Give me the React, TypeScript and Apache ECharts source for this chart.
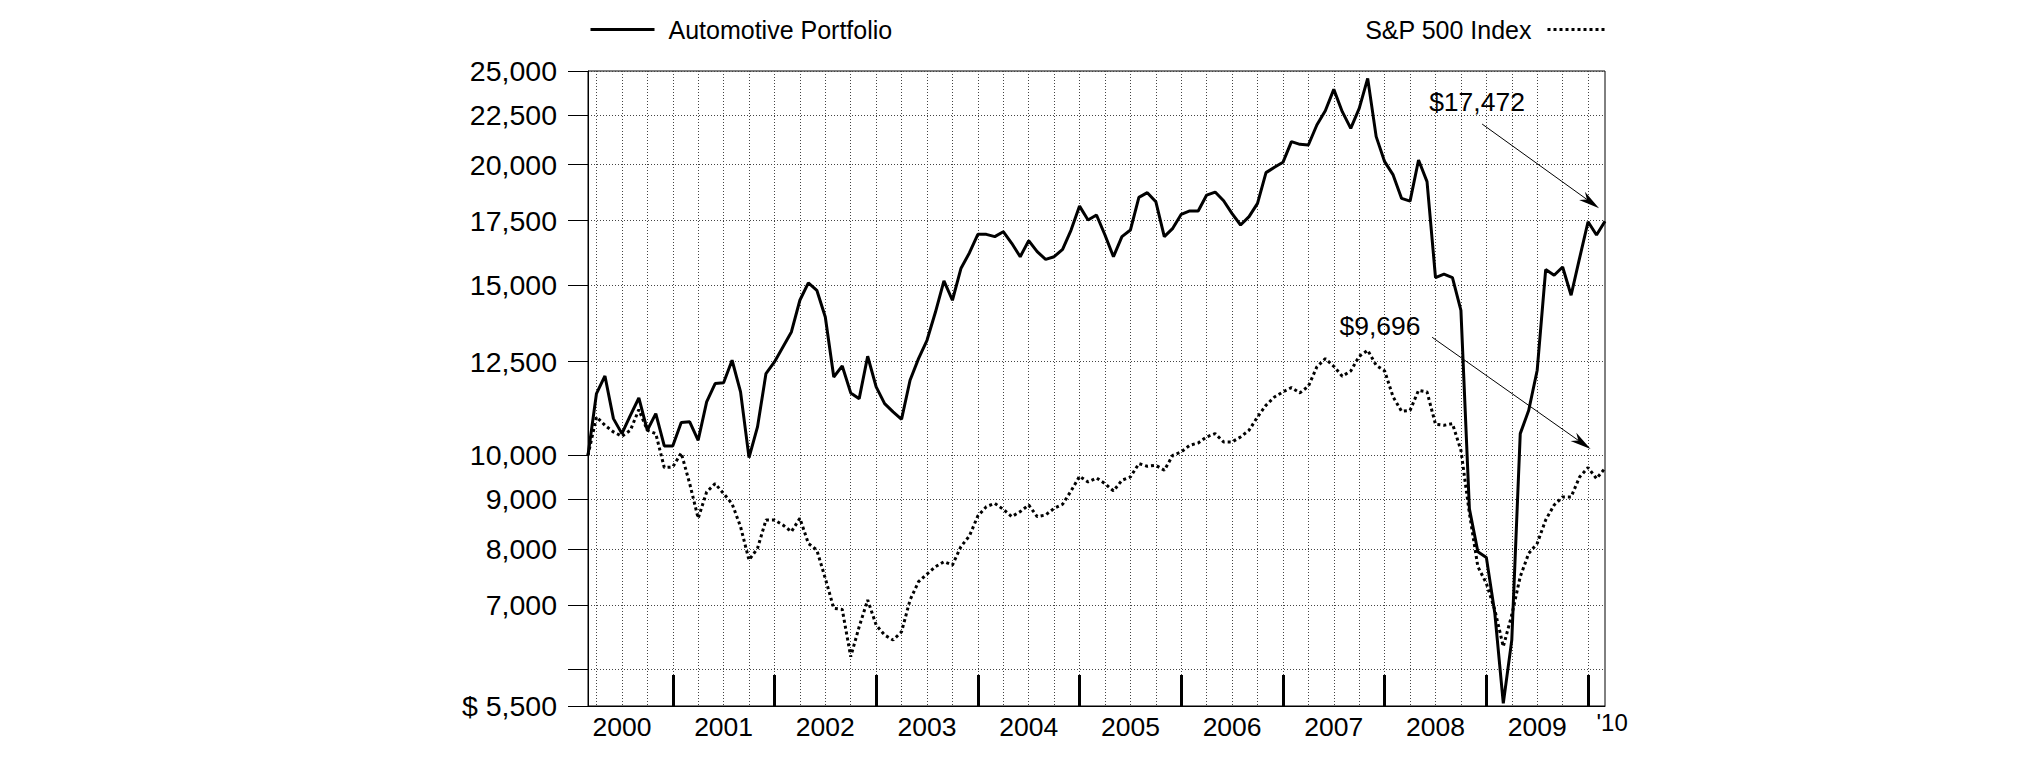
import React, { useEffect, useRef } from 'react';
import * as echarts from 'echarts';

const FONT = '"Liberation Sans", Arial, Helvetica, sans-serif';

// Monthly values, index 0 = Feb 2000 (start, $10,000) ... index 120 = Feb 2010
const automotive = [
  10000, 11585, 12082, 10913, 10530, 11000, 11464, 10614, 11045, 10225,
  10225, 10810, 10830, 10364, 11356, 11865, 11890, 12543, 11631, 9945,
  10699, 12150, 12493, 12948, 13419, 14472, 15083, 14821, 13904, 12053,
  12374, 11604, 11446, 12663, 11770, 11311, 11089, 10896, 11959, 12593,
  13155, 14071, 15155, 14472, 15608, 16200, 16935, 16935, 16842, 17043,
  16577, 16056, 16683, 16249, 15953, 16056, 16338, 17110, 18115, 17525,
  17735, 16910, 16056, 16842, 17110, 18495, 18705, 18305, 16842, 17180,
  17765, 17906, 17906, 18598, 18732, 18348, 17795, 17317, 17664, 18234,
  19620, 19871, 20108, 21122, 20989, 20955, 21978, 22742, 23930, 22690,
  21805, 22870, 24565, 21378, 20140, 19513, 18451, 18333, 20220, 19205,
  15277, 15399, 15277, 14128, 8800, 7946, 7839, 6860, 5535, 6436,
  10530, 11132, 12248, 15569, 15360, 15668, 14645, 16000, 17452, 16910,
  17472,
];

const sp500 = [
  10000, 10958, 10741, 10572, 10463, 10614, 11150, 10614, 10530, 9710,
  9725, 10056, 9347, 8605, 9163, 9347, 9127, 8909, 8434, 7789,
  8009, 8571, 8571, 8468, 8335, 8605, 8105, 7977, 7456, 6943,
  6925, 6186, 6645, 7082, 6672, 6514, 6437, 6566, 7082, 7397,
  7534, 7667, 7759, 7697, 8042, 8250, 8653, 8847, 8917, 8790,
  8639, 8743, 8882, 8639, 8674, 8811, 8898, 9185, 9512, 9384,
  9474, 9347, 9185, 9421, 9496, 9803, 9741, 9764, 9649, 10000,
  10080, 10241, 10298, 10447, 10530, 10323, 10323, 10447, 10614, 10958,
  11267, 11492, 11631, 11752, 11604, 11789, 12345, 12593, 12364, 12072,
  12227, 12663, 12846, 12393, 12227, 11492, 11106, 11130, 11676, 11631,
  10767, 10741, 10783, 10120, 8709, 7667, 7369, 6915, 6337, 6833,
  7487, 7915, 8105, 8571, 8882, 9054, 9054, 9496, 9710, 9459,
  9696,
];

const years = ['2000', '2001', '2002', '2003', '2004', '2005', '2006', '2007', '2008', '2009'];
const nextYearLabel = "'10";

const yTickValues = [5500, 6000, 7000, 8000, 9000, 10000, 12500, 15000, 17500, 20000, 22500, 25000];
const yLabelValues = [5500, 7000, 8000, 9000, 10000, 12500, 15000, 17500, 20000, 22500, 25000];

const seriesNames = ['Automotive Portfolio', 'S&P 500 Index'];

// callouts: label text, label anchor, arrow start, arrow end (month index, value)
const callouts = [
  { text: '$17,472', at: [104.9, 23240], from: [105.5, 22030], to: [119.3, 18025] },
  { text: '$9,696', at: [93.45, 13612], from: [99.6, 13250], to: [118.3, 10150] },
];

const lg = (v: number) => Math.log10(v);
const fmtNum = (n: number) => String(n).replace(/\B(?=(\d{3})+(?!\d))/g, ',');

export default function App() {
  const ref = useRef<HTMLDivElement>(null);

  useEffect(() => {
    const el = ref.current;
    if (!el) return;
    const chart = echarts.init(el, null, { renderer: 'svg' });

    const nMonths = automotive.length - 1;
    const quarterLines: number[] = [];
    for (let i = 0; i <= nMonths; i++) if (i % 3 === 1) quarterLines.push(i);
    const yearTicks = years.map((_, k) => 10 + 12 * k);
    const yearCentres = years.map((_, k) => 4 + 12 * k);

    const dotted = { show: true, lineStyle: { color: '#444', width: 1, type: [1, 2] } };

    const option: any = {
      animation: false,
      backgroundColor: '#ffffff',
      grid: {
        left: 588, right: 420, top: 71, bottom: 55,
        show: true, borderColor: '#000', borderWidth: 1, backgroundColor: 'transparent',
      },
      legend: [
        {
          data: [seriesNames[0]], left: 584, top: 12, itemWidth: 64, itemHeight: 24,
          itemStyle: { opacity: 0 }, lineStyle: { width: 3 },
          formatter: (n: string) => '{a|' + n + '}',
          textStyle: { color: '#000', fontFamily: FONT, fontSize: 25,
            rich: { a: { color: '#000', fontFamily: FONT, fontSize: 25, padding: [0, 0, 0, 9] } } },
        },
        {
          data: [seriesNames[1]], right: 413, top: 12, itemWidth: 58, itemHeight: 24, align: 'right',
          itemStyle: { opacity: 0 }, lineStyle: { width: 3 },
          formatter: (n: string) => '{a|' + n + '}',
          textStyle: { color: '#000', fontFamily: FONT, fontSize: 25,
            rich: { a: { color: '#000', fontFamily: FONT, fontSize: 25, padding: [0, 11, 0, 0] } } },
        },
      ],
      xAxis: [
        {
          type: 'value', min: 0, max: nMonths, position: 'bottom',
          axisLine: { show: true, lineStyle: { color: '#000', width: 1 } },
          axisTick: { show: false, customValues: quarterLines },
          axisLabel: { show: false },
          splitLine: dotted,
        },
        {
          type: 'value', min: 0, max: nMonths, position: 'bottom',
          axisLine: { show: false },
          axisTick: { show: true, inside: true, length: 31, lineStyle: { color: '#000', width: 3 }, customValues: yearTicks },
          axisLabel: {
            show: true, customValues: yearCentres, margin: 7,
            formatter: (v: number) => years[Math.round((v - 4) / 12)] ?? '',
            color: '#000', fontFamily: FONT, fontSize: 26.5,
          },
          splitLine: { show: false },
        },
      ],
      yAxis: {
        type: 'value', min: lg(5500), max: lg(25000),
        axisLine: { show: true, lineStyle: { color: '#000', width: 1 } },
        axisTick: { show: true, inside: false, length: 20, lineStyle: { color: '#000', width: 1 }, customValues: yTickValues.map(lg) },
        axisLabel: {
          customValues: yLabelValues.map(lg), margin: 31,
          formatter: (v: number) => {
            const n = Math.round(Math.pow(10, v) / 100) * 100;
            return n === 5500 ? '$ ' + fmtNum(n) : fmtNum(n);
          },
          color: '#000', fontFamily: FONT, fontSize: 28.5,
        },
        splitLine: dotted,
      },
      series: [
        {
          name: seriesNames[0], type: 'line', xAxisIndex: 0, yAxisIndex: 0,
          data: automotive.map((v, i) => [i, lg(v)]),
          symbol: 'none', showSymbol: false, smooth: false, z: 3,
          lineStyle: { color: '#000', width: 3 }, itemStyle: { color: '#000' },
        },
        {
          name: seriesNames[1], type: 'line', xAxisIndex: 0, yAxisIndex: 0,
          data: sp500.map((v, i) => [i, lg(v)]),
          symbol: 'none', showSymbol: false, smooth: false, z: 2,
          lineStyle: { color: '#000', width: 3, type: [3, 3] }, itemStyle: { color: '#000' },
        },
      ],
    };

    chart.setOption(option);

    const toPx = (x: number, v: number) => chart.convertToPixel({ seriesIndex: 0 }, [x, lg(v)]) as number[];
    const graphics: any[] = [];
    callouts.forEach((c) => {
      const t = toPx(c.at[0], c.at[1]);
      const p1 = toPx(c.from[0], c.from[1]);
      const p2 = toPx(c.to[0], c.to[1]);
      const dx = p2[0] - p1[0], dy = p2[1] - p1[1];
      const len = Math.hypot(dx, dy);
      const ux = dx / len, uy = dy / len, nx = -uy, ny = ux;
      const L = 21, W = 5, N = 15;
      const bx = p2[0] - ux * L, by = p2[1] - uy * L;
      const notch = [p2[0] - ux * N, p2[1] - uy * N];
      graphics.push({
        type: 'text', x: t[0], y: t[1], z: 10,
        style: { text: c.text, fill: '#000', font: '26.5px ' + FONT, fontSize: 26.5, fontFamily: FONT,
          align: 'center', verticalAlign: 'middle', textAlign: 'center', textVerticalAlign: 'middle' },
      });
      graphics.push({
        type: 'line', z: 10,
        shape: { x1: p1[0], y1: p1[1], x2: notch[0], y2: notch[1] },
        style: { stroke: '#000', lineWidth: 1 },
      });
      graphics.push({
        type: 'polygon', z: 10,
        shape: { points: [[p2[0], p2[1]], [bx + nx * W, by + ny * W], notch, [bx - nx * W, by - ny * W]] },
        style: { fill: '#000' },
      });
    });
    const endPx = toPx(119, 5500);
    graphics.push({
      type: 'text', x: endPx[0], y: endPx[1] + 16, z: 10,
      style: { text: nextYearLabel, fill: '#000', font: '24px ' + FONT, fontSize: 24, fontFamily: FONT,
        align: 'left', verticalAlign: 'middle', textAlign: 'left', textVerticalAlign: 'middle' },
    });
    chart.setOption({ graphic: graphics });

    return () => chart.dispose();
  }, []);

  return (
    <div
      ref={ref}
      style={{ position: 'absolute', left: 0, top: 0, width: 2025, height: 761, background: '#fff' }}
    />
  );
}
